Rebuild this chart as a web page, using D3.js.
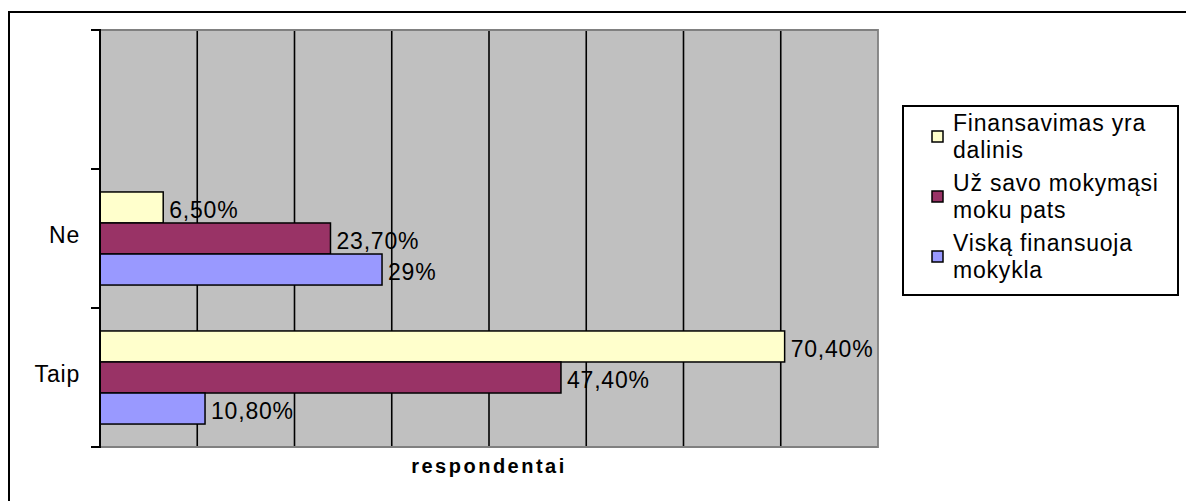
<!DOCTYPE html>
<html>
<head>
<meta charset="utf-8">
<script src="https://cdn.jsdelivr.net/npm/d3@7.9.0/dist/d3.min.js"></script>
<style>
  body { margin: 0; background: #fff; }
  svg { display: block; font-family: "Liberation Sans", Arial, sans-serif; }
</style>
</head>
<body>
<div id="chart"></div>
<script>
// categories top to bottom (first band is empty in the original)
const categories = ['', 'Ne', 'Taip'];
const seriesNames = ['Finansavimas yra dalinis', 'Už savo mokymąsi moku pats', 'Viską finansuoja mokykla'];
const legendLines = [['Finansavimas yra', 'dalinis'], ['Už savo mokymąsi', 'moku pats'], ['Viską finansuoja', 'mokykla']];
const colors = ['#FFFFCC', '#993366', '#9999FF'];

const finansavimas = [null, 6.5, 70.4];
const uzSavo = [null, 23.7, 47.4];
const viska = [null, 29, 10.8];
const finansavimasLabels = ['', '6,50%', '70,40%'];
const uzSavoLabels = ['', '23,70%', '47,40%'];
const viskaLabels = ['', '29%', '10,80%'];

const xMax = 80;
const gridTicks = [10, 20, 30, 40, 50, 60, 70];
const xTitle = 'respondentai';

const W = 1186, H = 501;
const plot = { left: 100, right: 878, top: 30, bottom: 447 };

const svg = d3.select('#chart').append('svg').attr('width', W).attr('height', H);

// outer chart border
svg.append('rect')
  .attr('x', 9).attr('y', 12).attr('width', 1300).attr('height', 700)
  .attr('fill', '#fff').attr('stroke', '#000').attr('stroke-width', 2);

const x = d3.scaleLinear().domain([0, xMax]).range([plot.left, plot.right]);
const y = d3.scaleBand().domain(categories).range([plot.top, plot.bottom]);
const ySub = d3.scaleBand().domain(d3.range(3)).range([0, y.bandwidth()]).paddingOuter(0.74);

// plot background
svg.append('rect')
  .attr('x', plot.left).attr('y', plot.top)
  .attr('width', plot.right - plot.left).attr('height', plot.bottom - plot.top)
  .attr('fill', '#C0C0C0');

// gridlines
svg.append('g').selectAll('line').data(gridTicks).join('line')
  .attr('x1', d => x(d)).attr('x2', d => x(d))
  .attr('y1', plot.top).attr('y2', plot.bottom)
  .attr('stroke', '#000').attr('stroke-width', 1.6);

// plot border (gray)
svg.append('path')
  .attr('d', `M${plot.left},${plot.top}H${plot.right}V${plot.bottom}H${plot.left}`)
  .attr('fill', 'none').attr('stroke', '#808080').attr('stroke-width', 1.8);

// bars
const rows = categories.map((c, i) => ({
  cat: c,
  vals: [
    { s: 0, v: finansavimas[i], label: finansavimasLabels[i] },
    { s: 1, v: uzSavo[i], label: uzSavoLabels[i] },
    { s: 2, v: viska[i], label: viskaLabels[i] }
  ].filter(d => d.v != null)
}));

const gRow = svg.append('g').selectAll('g').data(rows).join('g')
  .attr('transform', d => `translate(0,${y(d.cat)})`);

gRow.selectAll('rect').data(d => d.vals).join('rect')
  .attr('x', x(0))
  .attr('y', d => ySub(d.s))
  .attr('width', d => x(d.v) - x(0))
  .attr('height', ySub.bandwidth())
  .attr('fill', d => colors[d.s])
  .attr('stroke', '#000').attr('stroke-width', 1.5);

gRow.selectAll('text').data(d => d.vals).join('text')
  .attr('x', d => x(d.v) + 6)
  .attr('y', d => ySub(d.s) + ySub.bandwidth() / 2 + 4)
  .attr('dominant-baseline', 'middle')
  .attr('font-size', 23).attr('letter-spacing', 0.8)
  .attr('fill', '#000')
  .text(d => d.label);

// y axis
const yAxis = svg.append('g');
yAxis.append('line')
  .attr('x1', plot.left).attr('x2', plot.left)
  .attr('y1', plot.top - 1).attr('y2', plot.bottom + 1)
  .attr('stroke', '#000').attr('stroke-width', 2);
const tickYs = categories.map(c => y(c)).concat([plot.bottom]);
yAxis.selectAll('line.tick').data(tickYs).join('line')
  .attr('class', 'tick')
  .attr('x1', plot.left - 9).attr('x2', plot.left)
  .attr('y1', d => d).attr('y2', d => d)
  .attr('stroke', '#000').attr('stroke-width', 2);
yAxis.selectAll('text').data(categories.filter(c => c !== '')).join('text')
  .attr('x', 80)
  .attr('y', d => y(d) + y.bandwidth() / 2 + 4.5)
  .attr('text-anchor', 'end')
  .attr('font-size', 23).attr('letter-spacing', 0.8)
  .text(d => d);

// x title
svg.append('text')
  .attr('x', (plot.left + plot.right) / 2)
  .attr('y', 473)
  .attr('text-anchor', 'middle')
  .attr('font-size', 20).attr('font-weight', 'bold').attr('letter-spacing', 2.5)
  .text(xTitle);

// legend
const lg = svg.append('g');
lg.append('rect')
  .attr('x', 903).attr('y', 106).attr('width', 275).attr('height', 189)
  .attr('fill', '#fff').attr('stroke', '#000').attr('stroke-width', 2);

const items = lg.selectAll('g.item').data(seriesNames).join('g')
  .attr('class', 'item')
  .attr('transform', (d, i) => `translate(0,${131 + i * 60})`);

items.append('rect')
  .attr('x', 932).attr('y', 0).attr('width', 11).attr('height', 11)
  .attr('fill', (d, i) => colors[i])
  .attr('stroke', '#000').attr('stroke-width', 1.5);

items.append('text')
  .attr('x', 953)
  .attr('font-size', 23).attr('letter-spacing', 0.8)
  .selectAll('tspan').data((d, i) => legendLines[i]).join('tspan')
  .attr('x', 953)
  .attr('y', (d, j) => j * 26.5)
  .text(d => d);
</script>
</body>
</html>
